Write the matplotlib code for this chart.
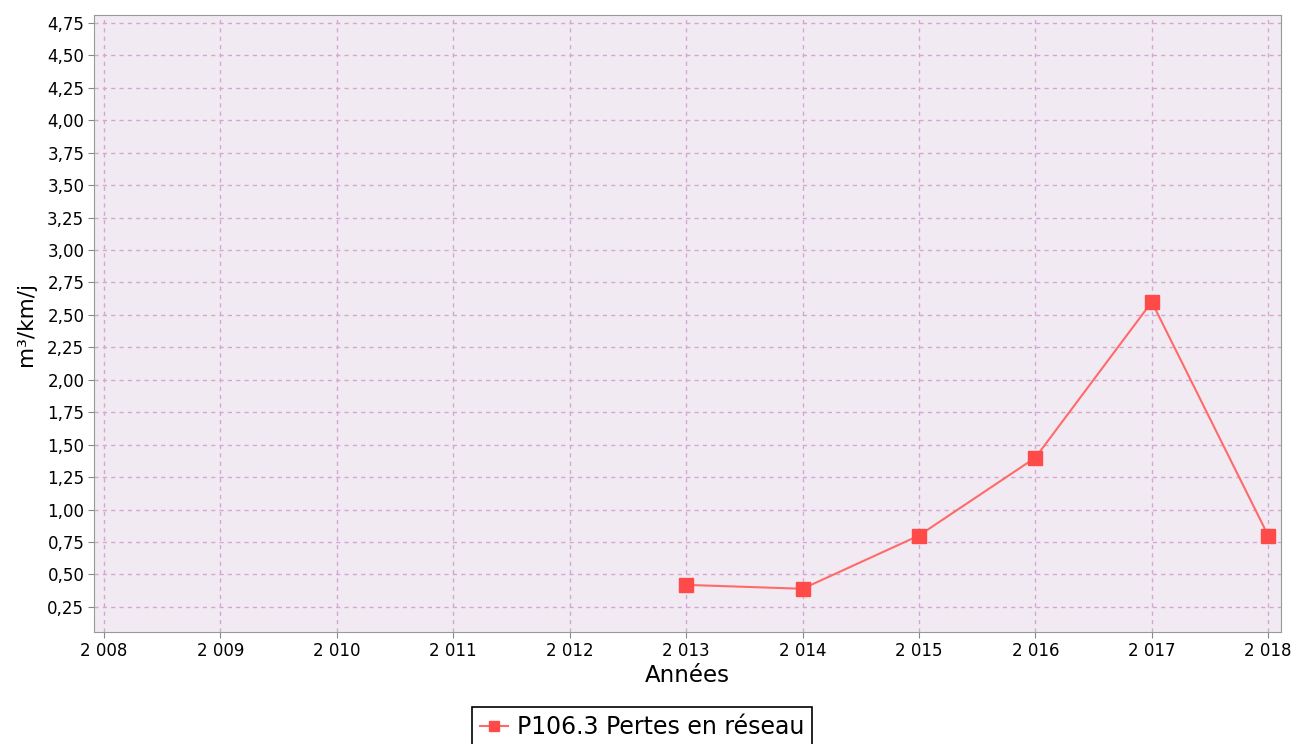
import matplotlib.pyplot as plt
from matplotlib.ticker import FuncFormatter, MultipleLocator

# Data
annees = [2013, 2014, 2015, 2016, 2017, 2018]
pertes = [0.42, 0.39, 0.80, 1.40, 2.60, 0.80]
serie_label = 'P106.3 Pertes en réseau'

fig = plt.figure(figsize=(12.96, 7.44), dpi=100)
ax = fig.add_axes([94 / 1296, 1 - 632 / 744, (1281 - 94) / 1296, (632 - 15) / 744])

ax.set_facecolor('#f2eaf2')
ax.plot(annees, pertes, color='#ff6a6a', lw=1.5, marker='s', ms=9.5,
        mfc='#ff4a4a', mec='#ff4a4a', label=serie_label, zorder=3)

ax.set_xlim(2007.914, 2018.11)
ax.set_ylim(0.057, 4.81)
ax.xaxis.set_major_locator(MultipleLocator(1))
ax.yaxis.set_major_locator(MultipleLocator(0.25))
ax.xaxis.set_major_formatter(FuncFormatter(lambda v, p: '{:,}'.format(int(round(v))).replace(',', ' ')))
ax.yaxis.set_major_formatter(FuncFormatter(lambda v, p: '{:.2f}'.format(v).replace('.', ',') if v > 0.1 else ''))

ax.grid(True, color='#d2a8d2', ls=(0, (3, 3)), lw=1)
ax.tick_params(labelsize=12, color='#888888', length=4, pad=3)
for s in ax.spines.values():
    s.set_color('#999999')

ax.set_xlabel('Années', fontsize=16.5, labelpad=3)
ax.set_ylabel('m³/km/j', fontsize=15.5, labelpad=8)

leg = fig.legend(loc='upper center', bbox_to_anchor=(642 / 1296, 1 - 707 / 744), fontsize=17,
                 fancybox=False, framealpha=1, edgecolor='black', handlelength=1.2,
                 handletextpad=0.35, borderpad=0.35, borderaxespad=0, markerscale=0.75)
leg.get_frame().set_linewidth(1.2)

fig.savefig('out.png', dpi=100)
